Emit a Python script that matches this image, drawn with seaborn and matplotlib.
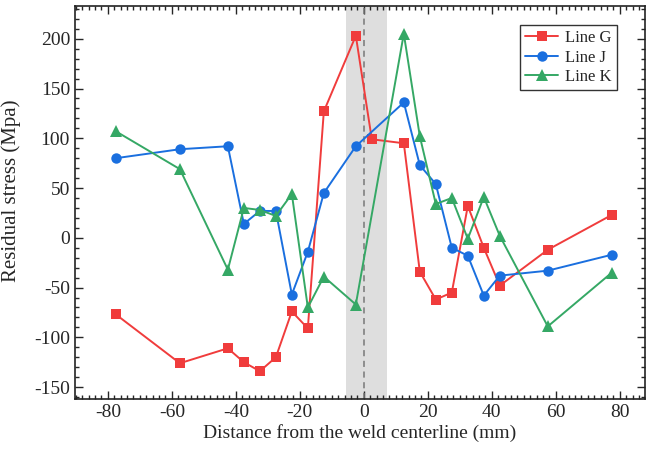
import numpy as np
import pandas as pd
import matplotlib
matplotlib.use('Agg')
import matplotlib.pyplot as plt
import seaborn as sns
from matplotlib.ticker import MultipleLocator

# measurement positions (mm from weld centerline)
distance = [-77.5, -57.5, -42.5, -37.5, -32.5, -27.5, -22.5, -17.5, -12.5, -2.5,
            2.5, 12.5, 17.5, 22.5, 27.5, 32.5, 37.5, 42.5, 57.5, 77.5]

# residual stress (Mpa) per line, None where not measured
line_g = [-77, -126, -111, -125, -134, -120, -74, -91, 127, 203,
          99, 95, -34, -62, -55, 32, -10, -48, -12, 23]
line_j = [80, 89, 92, 14, 27, 27, -57, -14, 45, 92,
          None, 136, 73, 54, -10, -18, -58, -38, -33, -17]
line_k = [107, 69, -32, 30, 28, 22, 44, -70, -39, -67,
          None, 205, 102, 34, 40, -1, 41, 2, -89, -35]

series = {'Line G': line_g, 'Line J': line_j, 'Line K': line_k}
colors = {'Line G': '#F03C3C', 'Line J': '#1A6FDF', 'Line K': '#35A865'}
markers = {'Line G': 's', 'Line J': 'o', 'Line K': '^'}
msizes = {'Line G': 6.5, 'Line J': 7.5, 'Line K': 8}

sns.set_style('ticks')
plt.rcParams['font.family'] = ['Liberation Serif', 'DejaVu Serif']
plt.rcParams['axes.unicode_minus'] = False

fig = plt.figure(figsize=(6.46, 4.54), dpi=100)
ax = fig.add_axes([0.116, 0.121, 0.882, 0.866])

# weld zone band + centerline
ax.axvspan(-5.6, 7.4, color='#DEDEDE', zorder=0, lw=0)
ax.axvline(0, color='#777777', ls=(0, (4, 3)), lw=1.1, zorder=1)

for name, vals in series.items():
    df = pd.DataFrame({'x': distance, 'y': vals}).dropna()
    sns.lineplot(data=df, x='x', y='y', ax=ax, color=colors[name],
                 marker=markers[name], markersize=msizes[name],
                 markeredgewidth=0, lw=1.4, label=name, sort=False)

ax.set_xlim(-90.3, 87.8)
ax.set_ylim(-162, 233)
ax.xaxis.set_major_locator(MultipleLocator(20))
ax.xaxis.set_minor_locator(MultipleLocator(2))
ax.yaxis.set_major_locator(MultipleLocator(50))
ax.yaxis.set_minor_locator(MultipleLocator(10))
ax.tick_params(which='both', direction='in', top=True, right=True,
               labelsize=14, width=1)
ax.tick_params(which='major', length=6)
ax.tick_params(which='minor', length=3)
for sp in ax.spines.values():
    sp.set_linewidth(1.2)
    sp.set_color('#222222')

ax.set_xlabel('Distance from the weld centerline (mm)', fontsize=14, labelpad=2)
ax.set_ylabel('Residual stress (Mpa)', fontsize=15)
ax.yaxis.set_label_coords(-0.095, 0.53)

leg = ax.legend(loc='upper right', bbox_to_anchor=(0.951, 0.951), fontsize=12,
                frameon=True, fancybox=False, edgecolor='black',
                handlelength=2.0, borderpad=0.3, labelspacing=0.2,
                handletextpad=0.4, borderaxespad=0)
leg.get_frame().set_linewidth(1.0)

fig.savefig('out.png', dpi=100)
